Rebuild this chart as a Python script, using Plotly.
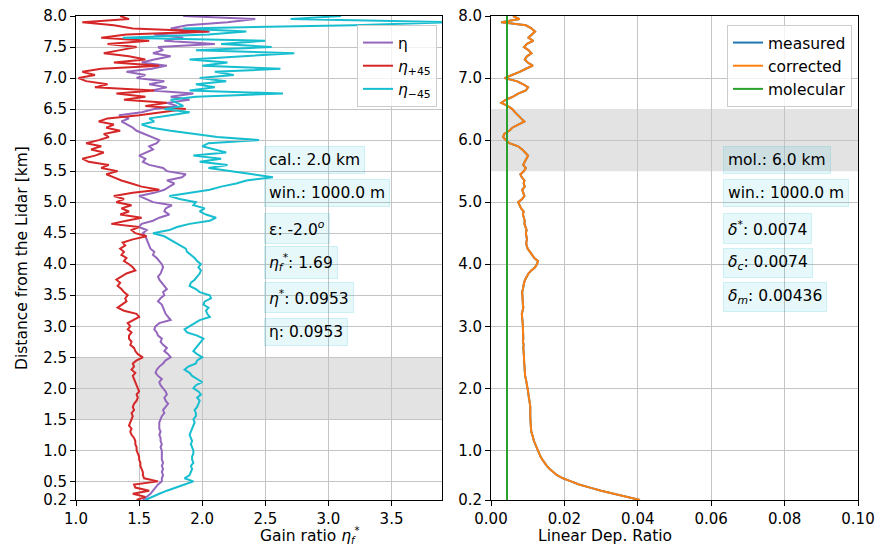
import numpy as np
import plotly.graph_objects as go

# altitude grid [km], 0.05 km sampling from 0.2 to 8.0
alt = np.round(np.arange(0.20, 8.0001, 0.05), 3)

eta_p45 = [
    1.48, 1.55, 1.45, 1.58, 1.47, 1.46,
    1.65, 1.54, 1.53, 1.53, 1.52, 1.51, 1.51, 1.50, 1.50, 1.49,
    1.48, 1.48, 1.47, 1.47, 1.46, 1.44, 1.43, 1.44, 1.42, 1.43,
    1.44, 1.45, 1.44, 1.46, 1.45, 1.46, 1.48, 1.49, 1.48, 1.50,
    1.49, 1.48, 1.47, 1.46, 1.45, 1.47, 1.44, 1.46, 1.45, 1.48,
    1.53, 1.49, 1.47, 1.46, 1.43, 1.44, 1.42, 1.42, 1.44, 1.41,
    1.43, 1.41, 1.46, 1.50, 1.48, 1.38, 1.33, 1.37, 1.40, 1.39,
    1.41, 1.38, 1.36, 1.33, 1.35, 1.32, 1.36, 1.40, 1.47, 1.45,
    1.42, 1.38, 1.40, 1.36, 1.38, 1.35, 1.39, 1.37, 1.45, 1.56,
    1.47, 1.44, 1.50, 1.28, 1.40, 1.52, 1.35, 1.42, 1.36, 1.44,
    1.32, 1.38, 1.30, 1.45, 1.66, 1.52, 1.44, 1.36, 1.30, 1.24,
    1.33, 1.20, 1.26, 1.10, 1.05, 1.15, 1.22, 1.12, 1.20, 1.08,
    1.18, 1.26, 1.22, 1.35, 1.24, 1.30, 1.18, 1.25, 1.50, 1.70,
    1.87, 1.55, 1.72, 1.38, 1.55, 1.32, 1.62, 1.15, 1.25, 1.08,
    1.02, 1.15, 1.05, 1.20, 1.66, 1.30, 1.55, 1.42, 1.22, 1.35,
    1.48, 1.25, 1.58, 1.20, 1.40, 2.05, 1.45, 1.30, 1.05, 1.42,
    1.35,
]

eta = [
    1.53, 1.56, 1.59, 1.61, 1.63, 1.65,
    1.68, 1.68, 1.69, 1.68, 1.69, 1.68, 1.69, 1.68, 1.68, 1.68,
    1.68, 1.67, 1.68, 1.67, 1.67, 1.66, 1.67, 1.66, 1.66, 1.66,
    1.67, 1.68, 1.70, 1.69, 1.71, 1.73, 1.71, 1.70, 1.72, 1.71,
    1.69, 1.67, 1.66, 1.68, 1.65, 1.63, 1.64, 1.66, 1.69, 1.71,
    1.75, 1.73, 1.70, 1.72, 1.69, 1.67, 1.68, 1.65, 1.64, 1.62,
    1.63, 1.66, 1.75, 1.73, 1.71, 1.70, 1.69, 1.68, 1.65, 1.67,
    1.70, 1.69, 1.72, 1.70, 1.68, 1.66, 1.65, 1.67, 1.68, 1.69,
    1.68, 1.66, 1.64, 1.61, 1.62, 1.59, 1.58, 1.57, 1.56, 1.55,
    1.53, 1.56, 1.50, 1.52, 1.61, 1.66, 1.74, 1.70, 1.71, 1.76,
    1.61, 1.55, 1.50, 1.62, 1.70, 1.74, 1.78, 1.72, 1.84, 1.87,
    1.72, 1.69, 1.58, 1.53, 1.55, 1.50, 1.56, 1.61, 1.58, 1.64,
    1.66, 1.60, 1.55, 1.48, 1.45, 1.40, 1.36, 1.42, 1.34, 1.52,
    1.62, 1.80, 1.72, 1.90, 1.75, 1.93, 1.60, 1.72, 1.58, 1.70,
    1.48, 1.55, 1.40, 1.60, 1.72, 1.52, 1.62, 1.75, 1.61, 1.69,
    1.65, 2.10, 1.70, 1.85, 1.62, 2.06, 1.75, 1.88, 2.20, 2.42,
    1.85,
]

eta_m45 = [
    1.55, 1.60, 1.66, 1.72, 1.80, 1.86,
    1.93, 1.86, 1.90, 1.91, 1.92, 1.91, 1.93, 1.92, 1.92, 1.93,
    1.93, 1.92, 1.91, 1.92, 1.91, 1.90, 1.91, 1.92, 1.93, 1.94,
    1.93, 1.95, 1.95, 1.94, 1.96, 1.97, 1.98, 1.96, 1.99, 1.97,
    1.93, 1.95, 2.00, 1.96, 1.92, 1.90, 1.86, 1.89, 1.95, 1.96,
    2.00, 1.96, 1.93, 1.95, 1.97, 1.99, 2.01, 1.96, 1.88, 1.86,
    1.90, 1.93, 1.98, 2.06, 2.04, 2.03, 2.05, 2.01, 2.02, 2.07,
    2.06, 1.98, 1.95, 1.90, 1.91, 1.94, 1.96, 1.98, 1.99, 1.97,
    1.99, 1.96, 1.94, 1.91, 1.88, 1.87, 1.83, 1.79, 1.75, 1.70,
    1.61, 1.74, 1.80, 1.90, 2.06, 2.11, 2.03, 1.98, 2.02, 1.93,
    1.95, 1.82, 1.74, 1.90, 2.06, 2.15, 2.27, 2.35, 2.56, 2.40,
    2.22, 2.05, 2.20, 1.98, 2.15, 1.93, 2.19, 2.10, 2.00, 2.05,
    2.45, 2.12, 1.92, 1.75, 1.60, 1.52, 1.62, 1.58, 1.75, 1.90,
    1.70, 1.85, 1.80, 1.75, 1.95, 2.64, 1.90, 2.10, 1.95, 2.19,
    1.98, 2.25, 2.10, 2.62, 2.00, 2.20, 1.90, 2.35, 2.73, 1.95,
    2.55, 2.15, 2.50, 1.37, 2.05, 2.35, 1.85, 3.20, 3.95, 2.70,
    3.10,
]

dep_corrected = [
    0.0406, 0.0370, 0.0333, 0.0300, 0.0270, 0.0240,
    0.0218, 0.0196, 0.0180, 0.0169, 0.0160, 0.0152, 0.0145, 0.0140, 0.0135, 0.0131,
    0.0128, 0.0124, 0.0120, 0.0117, 0.0115, 0.0112, 0.0110, 0.0109, 0.0108, 0.0108,
    0.0107, 0.0107, 0.0107, 0.0108, 0.0107, 0.0106, 0.0104, 0.0103, 0.0102, 0.0101,
    0.0100, 0.0098, 0.0096, 0.0095, 0.0093, 0.0092, 0.0091, 0.0091, 0.0090, 0.0090,
    0.0090, 0.0089, 0.0090, 0.0088, 0.0089, 0.0087, 0.0088, 0.0087, 0.0088, 0.0087,
    0.0087, 0.0086, 0.0085, 0.0083, 0.0084, 0.0086, 0.0088, 0.0087, 0.0086, 0.0087,
    0.0086, 0.0085, 0.0087, 0.0088, 0.0090, 0.0093, 0.0097, 0.0102, 0.0110, 0.0120,
    0.0125, 0.0128, 0.0118, 0.0112, 0.0104, 0.0100, 0.0097, 0.0096, 0.0098, 0.0096,
    0.0095, 0.0097, 0.0093, 0.0091, 0.0092, 0.0090, 0.0087, 0.0089, 0.0082, 0.0078,
    0.0074, 0.0085, 0.0091, 0.0088, 0.0085, 0.0092, 0.0089, 0.0091, 0.0084, 0.0080,
    0.0090, 0.0095, 0.0088, 0.0092, 0.0097, 0.0101, 0.0093, 0.0085, 0.0074, 0.0050,
    0.0040, 0.0033, 0.0036, 0.0050, 0.0058, 0.0075, 0.0091, 0.0082, 0.0072, 0.0065,
    0.0058, 0.0045, 0.0028, 0.0040, 0.0060, 0.0074, 0.0095, 0.0101, 0.0088, 0.0070,
    0.0037, 0.0060, 0.0078, 0.0095, 0.0114, 0.0100, 0.0092, 0.0098, 0.0110, 0.0102,
    0.0090, 0.0098, 0.0115, 0.0102, 0.0110, 0.0120, 0.0110, 0.0095, 0.0028, 0.0078,
    0.0060,
]
dep_measured = dep_corrected
dep_molecular = 0.00436
alt_range = [0.2, 8.0]

cal_band = [1.5, 2.5]
mol_band = [5.5, 6.5]

left_xticks = [1.0, 1.5, 2.0, 2.5, 3.0, 3.5]
left_yticks = [0.2, 0.5, 1.0, 1.5, 2.0, 2.5, 3.0, 3.5, 4.0, 4.5, 5.0, 5.5, 6.0, 6.5, 7.0, 7.5, 8.0]
right_xticks = [0.0, 0.02, 0.04, 0.06, 0.08, 0.10]
right_yticks = [0.2, 1.0, 2.0, 3.0, 4.0, 5.0, 6.0, 7.0, 8.0]

left_texts = ["cal.: 2.0 km", "win.: 1000.0 m", "ε: -2.0<sup><i>o</i></sup>",
              "<i>η</i><sub><i>f</i></sub><sup>*</sup>: 1.69", "<i>η</i><sup>*</sup>: 0.0953", "η: 0.0953"]
right_texts = ["mol.: 6.0 km", "win.: 1000.0 m", "<i>δ</i><sup>*</sup>: 0.0074",
               "<i>δ</i><sub><i>c</i></sub>: 0.0074", "<i>δ</i><sub><i>m</i></sub>: 0.00436"]
text_alts = [5.68, 5.14, 4.58, 4.02, 3.47, 2.91]

W, H = 875, 547
FONT = "DejaVu Sans"
FS = 15.5
TFS = 15

fig = go.Figure()
fig.add_trace(go.Scatter(x=eta, y=alt, mode="lines", name="η",
                         line=dict(color="#9467bd", width=2), legend="legend"))
fig.add_trace(go.Scatter(x=eta_p45, y=alt, mode="lines", name="<i>η</i><sub>+45</sub>",
                         line=dict(color="#d62728", width=2), legend="legend"))
fig.add_trace(go.Scatter(x=eta_m45, y=alt, mode="lines", name="<i>η</i><sub>−45</sub>",
                         line=dict(color="#17becf", width=2), legend="legend"))

fig.add_trace(go.Scatter(x=dep_measured, y=alt, mode="lines", name="measured",
                         line=dict(color="#1f77b4", width=2), xaxis="x2", yaxis="y2", legend="legend2"))
fig.add_trace(go.Scatter(x=dep_corrected, y=alt, mode="lines", name="corrected",
                         line=dict(color="#ff7f0e", width=2), xaxis="x2", yaxis="y2", legend="legend2"))
fig.add_trace(go.Scatter(x=[dep_molecular, dep_molecular], y=alt_range, mode="lines", name="molecular",
                         line=dict(color="#2ca02c", width=2), xaxis="x2", yaxis="y2", legend="legend2"))

fig.add_shape(type="rect", xref="x domain", yref="y", x0=0, x1=1, y0=cal_band[0], y1=cal_band[1],
              fillcolor="rgba(128,128,128,0.22)", line=dict(width=0), layer="below")
fig.add_shape(type="rect", xref="x2 domain", yref="y2", x0=0, x1=1, y0=mol_band[0], y1=mol_band[1],
              fillcolor="rgba(128,128,128,0.22)", line=dict(width=0), layer="below")

box_bg = "rgba(23,190,207,0.10)"
box_bd = "rgba(23,190,207,0.18)"
for t, a in zip(left_texts, text_alts):
    fig.add_annotation(x=2.49, y=a, xref="x", yref="y", text=t, showarrow=False,
                       xanchor="left", yanchor="middle", align="left",
                       font=dict(family=FONT, size=FS, color="black"),
                       bgcolor=box_bg, bordercolor=box_bd, borderwidth=1, borderpad=4)
for t, a in zip(right_texts, text_alts):
    fig.add_annotation(x=0.0632, y=a, xref="x2", yref="y2", text=t, showarrow=False,
                       xanchor="left", yanchor="middle", align="left",
                       font=dict(family=FONT, size=FS, color="black"),
                       bgcolor=box_bg, bordercolor=box_bd, borderwidth=1, borderpad=4)

# axis titles
fig.add_annotation(x=259 / W, y=0, xref="paper", yref="paper",
                   text="Gain ratio <i>η</i><sub><i><span style='font-size:10px'>f</span></i></sub>"
                        "<sup><span style='font-size:10px'>*</span></sup>",
                   showarrow=False, font=dict(family=FONT, size=FS, color="black"),
                   yanchor="bottom", borderpad=0)
fig.add_annotation(x=674 / W, y=1 - 536 / H, xref="paper", yref="paper",
                   text="Linear Dep. Ratio", showarrow=False,
                   font=dict(family=FONT, size=FS, color="black"), yanchor="middle")
fig.add_annotation(x=22 / W, y=1 - 258 / H, xref="paper", yref="paper",
                   text="Distance from the Lidar [km]", showarrow=False, textangle=-90,
                   font=dict(family=FONT, size=FS, color="black"), xanchor="center", yanchor="middle")

ax_common = dict(showline=True, linecolor="black", linewidth=1, mirror=True,
                 ticks="outside", ticklen=5, tickcolor="black", showgrid=True,
                 gridcolor="#c4c4c4", gridwidth=1, zeroline=False, automargin=False,
                 tickfont=dict(family=FONT, size=TFS, color="black"))

ydom = [1 - 500 / H, 1 - 16 / H]
fig.update_layout(
    width=W, height=H, margin=dict(l=0, r=0, t=0, b=0, pad=0, autoexpand=False),
    paper_bgcolor="white", plot_bgcolor="rgba(0,0,0,0)",
    font=dict(family=FONT, size=FS, color="black"),
    xaxis=dict(domain=[76 / W, 442 / W], range=[1.0, 3.9], tickvals=left_xticks,
               ticktext=[f"{v:.1f}" for v in left_xticks], anchor="y", **ax_common),
    yaxis=dict(domain=ydom, range=alt_range, tickvals=left_yticks,
               ticktext=[f"{v:.1f}" for v in left_yticks], anchor="x", **ax_common),
    xaxis2=dict(domain=[491 / W, 858 / W], range=[0, 0.1], tickvals=right_xticks,
                ticktext=[f"{v:.2f}" for v in right_xticks], anchor="y2", **ax_common),
    yaxis2=dict(domain=ydom, range=alt_range, tickvals=right_yticks,
                ticktext=[f"{v:.1f}" for v in right_yticks], anchor="x2", **ax_common),
    legend=dict(x=437 / W, y=1 - 25 / H, xanchor="right", yanchor="top",
                bgcolor="rgba(255,255,255,0.8)", bordercolor="#cccccc", borderwidth=1,
                font=dict(family=FONT, size=FS, color="black")),
    legend2=dict(x=852 / W, y=1 - 25 / H, xanchor="right", yanchor="top",
                 bgcolor="rgba(255,255,255,0.8)", bordercolor="#cccccc", borderwidth=1,
                 font=dict(family=FONT, size=FS, color="black")),
    showlegend=True,
)

fig.write_html("out.html")
